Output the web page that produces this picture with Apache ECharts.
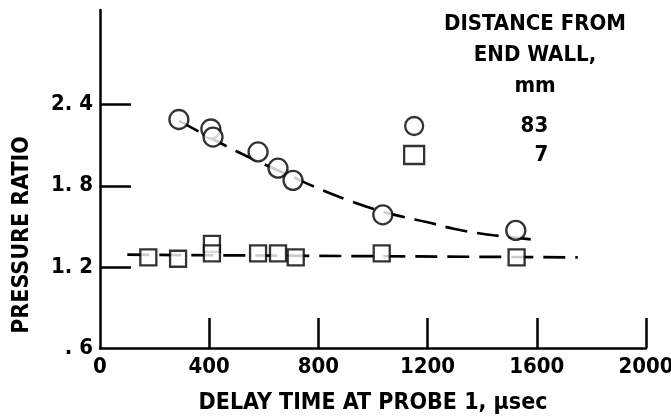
<!DOCTYPE html>
<html>
<head>
<meta charset="utf-8">
<script src="https://cdn.jsdelivr.net/npm/echarts@6/dist/echarts.min.js"></script>
<style>
  html, body { margin: 0; padding: 0; background: #fff; }
  #chart { width: 671px; height: 419px; }
</style>
</head>
<body>
<div id="chart"></div>
<script>
// tick values and their printed labels
const xTickValues = [0, 400, 800, 1200, 1600, 2000];
const yTickValues = [0.6, 1.2, 1.8, 2.4];
const yTickLabels = ['. 6', '1. 2', '1. 8', '2. 4'];

// measured points, 83 mm from end wall (circles)
const delay83 = [289, 406, 414, 579, 652, 707, 1036, 1523];
const ratio83 = [2.29, 2.22, 2.16, 2.05, 1.93, 1.84, 1.585, 1.47];

// measured points, 7 mm from end wall (squares)
const delay7 = [177, 286, 410, 410, 579, 652, 717, 1032, 1526];
const ratio7 = [1.27, 1.26, 1.37, 1.30, 1.30, 1.30, 1.27, 1.30, 1.27];

// dashed faired curves
const fit83X = [290, 400, 500, 600, 700, 800, 900, 1000, 1100, 1200, 1300, 1400, 1500, 1600];
const fit83Y = [2.28, 2.16, 2.055, 1.96, 1.87, 1.78, 1.70, 1.63, 1.575, 1.53, 1.48, 1.445, 1.42, 1.40];
const fit7X = [100, 1750];
const fit7Y = [1.29, 1.27];

const FONT = "'DejaVu Sans Condensed', 'Liberation Sans Narrow', sans-serif";

function pairs(xs, ys) {
  return xs.map((x, i) => [x, ys[i]]);
}

const chart = echarts.init(document.getElementById('chart'), null, { renderer: 'canvas' });

const markStyle = {
  color: '#fff',
  borderColor: '#000',
  borderWidth: 2.3
};

const option = {
  backgroundColor: '#fff',
  animation: false,
  grid: { left: 100, right: 25, top: 10, bottom: 71, outerBoundsMode: 'none' },
  legend: {
    orient: 'vertical',
    left: 398,
    top: 110,
    itemWidth: 20,
    itemHeight: 18,
    itemGap: 7,
    itemStyle: { color: '#fff', borderColor: '#000', borderWidth: 2.3 },
    data: [
      { name: '83', icon: 'circle' },
      { name: '7', icon: 'rect' }
    ],
    formatter: name => '{n|' + name + '}',
    textStyle: {
      padding: [0, 0, 0, 94],
      rich: {
        n: { width: 25, align: 'right', fontFamily: FONT, fontWeight: 'bold', fontSize: 22, color: '#000' }
      }
    }
  },
  graphic: [{
    type: 'text',
    x: 535,
    y: 9,
    style: {
      text: 'DISTANCE FROM\nEND WALL,\nmm',
      fontFamily: FONT,
      fontWeight: 'bold',
      fontSize: 22,
      lineHeight: 31,
      align: 'center',
      fill: '#000'
    }
  }],
  xAxis: {
    type: 'value',
    min: 0,
    max: 2000,
    interval: 400,
    name: 'DELAY TIME AT PROBE 1, µsec',
    nameLocation: 'middle',
    nameGap: 44,
    nameTextStyle: { fontFamily: FONT, fontWeight: 'bold', fontSize: 23, color: '#000' },
    splitLine: { show: false },
    axisLine: { lineStyle: { color: '#000', width: 2.5 } },
    axisTick: {
      inside: true,
      length: 30,
      customValues: xTickValues.slice(1),
      lineStyle: { color: '#000', width: 2.5 }
    },
    axisLabel: {
      customValues: xTickValues,
      margin: 8,
      formatter: v => String(v),
      fontFamily: FONT,
      fontWeight: 'bold',
      fontSize: 22,
      color: '#000'
    }
  },
  yAxis: {
    type: 'value',
    min: 0.6,
    max: 3.1,
    interval: 0.6,
    name: 'PRESSURE RATIO',
    nameLocation: 'middle',
    nameRotate: 90,
    nameGap: 66,
    nameTextStyle: {
      fontFamily: FONT, fontWeight: 'bold', fontSize: 23, color: '#000',
      padding: [0, 112, 0, 0]
    },
    splitLine: { show: false },
    axisLine: { lineStyle: { color: '#000', width: 2.5 } },
    axisTick: {
      inside: true,
      length: 31,
      customValues: yTickValues.slice(1),
      lineStyle: { color: '#000', width: 2.5 }
    },
    axisLabel: {
      customValues: yTickValues,
      margin: 7,
      formatter: v => {
        const i = yTickValues.findIndex(t => Math.abs(t - v) < 1e-6);
        return i >= 0 ? yTickLabels[i] : '';
      },
      fontFamily: FONT,
      fontWeight: 'bold',
      fontSize: 22,
      color: '#000'
    }
  },
  series: [
    {
      name: 'fit83',
      type: 'line',
      data: pairs(fit83X, fit83Y),
      smooth: true,
      showSymbol: false,
      z: 1,
      lineStyle: { color: '#000', width: 2.7, type: [22, 10] }
    },
    {
      name: 'fit7',
      type: 'line',
      data: pairs(fit7X, fit7Y),
      showSymbol: false,
      z: 1,
      lineStyle: { color: '#000', width: 2.7, type: [22, 10] }
    },
    {
      name: '83',
      type: 'scatter',
      symbol: 'circle',
      symbolSize: 19,
      z: 3,
      data: pairs(delay83, ratio83),
      itemStyle: markStyle
    },
    {
      name: '7',
      type: 'scatter',
      symbol: 'rect',
      symbolSize: 16,
      z: 3,
      data: pairs(delay7, ratio7),
      itemStyle: markStyle
    }
  ]
};

chart.setOption(option);
</script>
</body>
</html>
